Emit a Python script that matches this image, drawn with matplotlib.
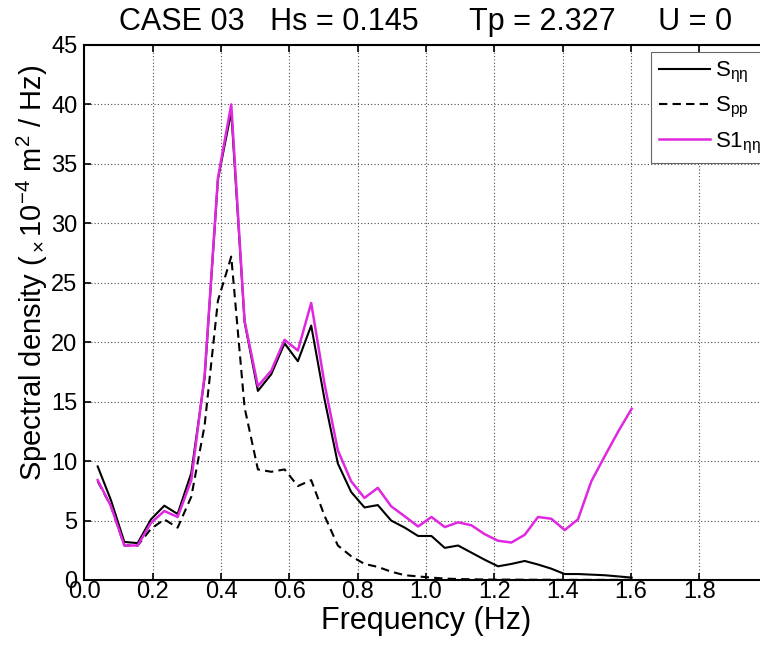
import matplotlib
matplotlib.use("Agg")
from matplotlib import pyplot as plt

plt.rcParams["font.family"] = ["Liberation Sans", "DejaVu Sans"]
plt.rcParams["mathtext.fontset"] = "custom"
plt.rcParams["mathtext.rm"] = "Liberation Sans"
plt.rcParams["mathtext.it"] = "Liberation Sans:italic"

# frequency bins (Hz)
freq = [0.039, 0.078, 0.117, 0.156, 0.195, 0.234, 0.273, 0.313, 0.352, 0.391,
        0.430, 0.469, 0.508, 0.547, 0.586, 0.625, 0.664, 0.703, 0.742, 0.781,
        0.820, 0.859, 0.898, 0.938, 0.977, 1.016, 1.055, 1.094, 1.133, 1.172,
        1.211, 1.250, 1.289, 1.328, 1.367, 1.406, 1.445, 1.484, 1.523, 1.563,
        1.602]

# spectral densities (x1e-4 m^2/Hz)
s_eta = [9.55, 6.7, 3.2, 3.1, 5.1, 6.25, 5.55, 9.0, 17.0, 33.7,
         39.4, 21.7, 15.9, 17.3, 19.9, 18.4, 21.4, 15.2, 9.8, 7.4,
         6.1, 6.3, 5.0, 4.4, 3.7, 3.7, 2.7, 2.9, 2.3, 1.7,
         1.15, 1.35, 1.6, 1.3, 0.95, 0.5, 0.5, 0.45, 0.4, 0.3,
         0.2]
s_pp = [8.3, 6.2, 2.9, 2.9, 4.3, 5.1, 4.4, 7.0, 13.0, 23.5,
        27.2, 14.5, 9.3, 9.1, 9.3, 7.9, 8.4, 5.4, 2.9, 2.0,
        1.35, 1.1, 0.7, 0.4, 0.3, 0.2, 0.12, 0.08, 0.06, 0.04,
        0.03, 0.03, 0.02, 0.02, 0.02, 0.01, 0.01, 0.01, 0.01, 0.01,
        0.01]
s1_eta = [8.4, 6.2, 2.9, 2.9, 4.8, 5.8, 5.3, 8.4, 17.2, 33.8,
          40.0, 21.8, 16.3, 17.6, 20.2, 19.3, 23.3, 16.5, 10.9, 8.3,
          6.9, 7.75, 6.2, 5.35, 4.5, 5.3, 4.45, 4.85, 4.6, 3.85,
          3.3, 3.15, 3.8, 5.3, 5.15, 4.2, 5.1, 8.3, 10.4, 12.5,
          14.4]

x_ticks = [0.0, 0.2, 0.4, 0.6, 0.8, 1.0, 1.2, 1.4, 1.6, 1.8]
y_ticks = [0, 5, 10, 15, 20, 25, 30, 35, 40, 45]

fig = plt.figure(figsize=(7.6, 6.45), dpi=100)
# axes runs slightly past the right edge of the figure, like the cropped original
ax = fig.add_axes([0.111, 0.1008, 0.899, 0.8295])

ax.plot(freq, s_eta, color="black", lw=1.5, label=r"S$_{\mathrm{\eta\eta}}$")
ax.plot(freq, s_pp, color="black", lw=1.5, linestyle=(0, (4, 2.5)),
        label=r"S$_{\mathrm{pp}}$")
ax.plot(freq, s1_eta, color="#df28df", lw=1.8, label=r"S1$_{\mathrm{\eta\eta}}$")

ax.set_xlim(0, 2.0)
ax.set_ylim(0, 45)
ax.set_xticks(x_ticks)
ax.set_xticklabels([f"{t:.1f}" for t in x_ticks])
ax.set_yticks(y_ticks)

ax.grid(True, color="0.3", lw=0.8, linestyle=(0, (1, 2)))
ax.tick_params(direction="in", length=5, width=1.2, labelsize=17,
               top=True, right=True)
ax.tick_params(axis="x", pad=1)
ax.tick_params(axis="y", pad=5)
for spine in ax.spines.values():
    spine.set_linewidth(1.5)

ax.set_title("CASE 03   Hs = 0.145      Tp = 2.327     U = 0",
             fontsize=22, pad=11)
ax.set_xlabel("Frequency (Hz)", fontsize=22, labelpad=2)
ax.set_ylabel(r"Spectral density ($_\times$10$^{-4}$ m$^2$ / Hz)", fontsize=21)
ax.yaxis.set_label_coords(-0.05, 0.574)

leg = ax.legend(loc="upper left", bbox_to_anchor=(0.829, 0.986),
                borderaxespad=0, fontsize=16, handlelength=2.3,
                handletextpad=0.25, borderpad=0.35, labelspacing=0.45,
                fancybox=False, framealpha=1, edgecolor="0.4")
leg.get_frame().set_linewidth(0.8)

fig.savefig("out.png", dpi=100)
